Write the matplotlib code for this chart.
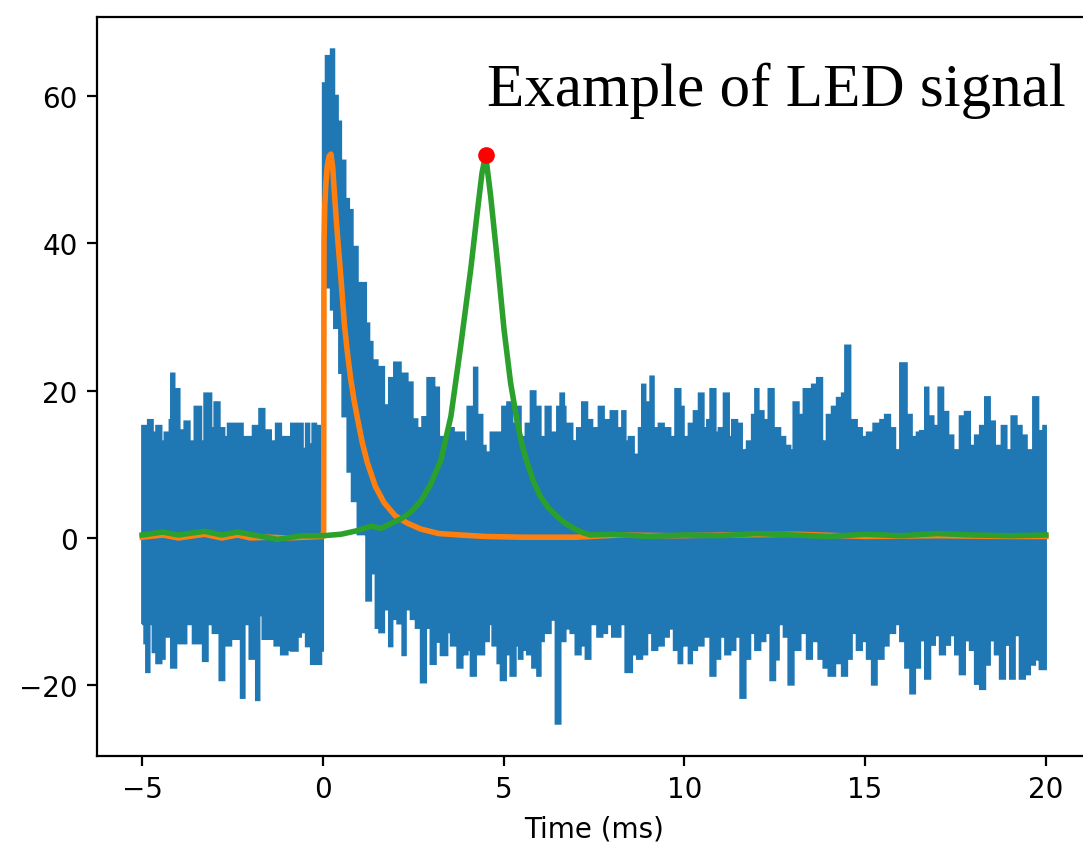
import numpy as np
import matplotlib
matplotlib.use("Agg")
import matplotlib.pyplot as plt


# ----------------------
# measured trace (envelope of the raw samples, step levels)
# ----------------------

# upper edge of the raw trace: segment start time (ms) and level
up_t = [-5.00, -4.84, -4.71, -4.61, -4.47, -4.38, -4.24, -4.20, -4.11, -3.97,
        -3.83, -3.69, -3.55, -3.37, -3.28, -3.09, -3.00, -2.86, -2.73, -2.63,
        -2.22, -1.94, -1.76, -1.62, -1.44, -1.30, -1.16, -0.88, -0.56, -0.47,
        -0.38, -0.29, -0.19, 0.00, 0.08, 0.22, 0.31, 0.41, 0.50, 0.62,
        0.72, 0.82, 0.96, 1.05, 1.10, 1.19, 1.28, 1.37, 1.51, 1.69,
        1.83, 1.97, 2.15, 2.34, 2.48, 2.61, 2.75, 2.89, 3.08, 3.21,
        3.44, 3.62, 3.90, 4.00, 4.18, 4.27, 4.41, 4.50, 4.64, 4.96,
        5.10, 5.24, 5.33, 5.47, 5.61, 5.75, 5.88, 6.02, 6.16, 6.30,
        6.48, 6.57, 6.67, 6.71, 6.90, 6.94, 6.99, 7.03, 7.17, 7.31,
        7.45, 7.63, 7.77, 7.96, 8.14, 8.28, 8.37, 8.46, 8.60, 8.74,
        8.83, 8.92, 9.06, 9.15, 9.29, 9.43, 9.61, 9.75, 9.89, 9.98,
        10.12, 10.26, 10.40, 10.53, 10.63, 10.72, 10.86, 10.95, 11.09, 11.23,
        11.32, 11.46, 11.59, 11.73, 11.87, 11.96, 12.05, 12.19, 12.33, 12.47,
        12.65, 12.79, 12.93, 13.02, 13.16, 13.30, 13.53, 13.67, 13.81, 13.94,
        14.08, 14.22, 14.36, 14.45, 14.59, 14.77, 14.91, 15.05, 15.23, 15.42,
        15.55, 15.69, 15.83, 15.97, 16.15, 16.29, 16.43, 16.52, 16.66, 16.75,
        16.89, 17.03, 17.16, 17.30, 17.44, 17.62, 17.76, 17.90, 18.04, 18.18,
        18.32, 18.45, 18.59, 18.78, 18.91, 19.05, 19.19, 19.33, 19.47, 19.65,
        19.79, 19.93]
up_v = [15.2, 16.0, 14.3, 15.2, 13.1, 14.3, 16.0, 22.3, 20.2, 14.6,
        15.8, 13.1, 17.8, 13.1, 19.6, 14.9, 18.4, 14.9, 13.7, 15.5,
        13.7, 15.2, 17.5, 14.6, 13.1, 15.5, 13.7, 15.5, 12.1, 15.5,
        12.7, 15.5, 15.2, 61.7, 65.4, 66.3, 60.0, 56.5, 51.2, 46.0,
        44.5, 39.5, 34.6, 32.8, 34.6, 29.1, 26.6, 24.1, 23.2, 18.0,
        21.7, 23.8, 22.3, 21.1, 16.1, 14.9, 16.4, 21.7, 20.4, 13.7,
        14.9, 14.3, 13.1, 17.8, 23.1, 16.7, 12.5, 11.6, 14.3, 17.8,
        18.4, 15.5, 17.8, 13.7, 15.5, 19.9, 17.8, 13.7, 17.8, 14.3,
        17.8, 19.6, 17.8, 15.5, 13.1, 9.6, 13.1, 14.9, 18.4, 16.0,
        14.9, 17.8, 16.0, 17.2, 14.9, 17.2, 13.1, 13.7, 11.3, 14.9,
        20.8, 18.4, 21.9, 14.9, 15.5, 14.9, 13.7, 20.2, 17.8, 13.7,
        15.5, 17.2, 19.6, 14.9, 16.0, 20.2, 14.3, 14.9, 19.6, 13.7,
        16.0, 15.5, 11.9, 13.1, 16.7, 20.2, 17.2, 16.0, 20.2, 14.9,
        13.7, 12.5, 11.9, 18.4, 16.7, 20.2, 20.8, 21.7, 13.1, 16.7,
        17.8, 19.0, 19.6, 26.1, 16.0, 14.9, 13.7, 14.3, 15.5, 16.0,
        16.7, 14.9, 11.9, 23.7, 16.7, 13.7, 14.3, 14.5, 20.4, 16.5,
        15.2, 20.4, 17.1, 13.9, 11.9, 16.5, 17.1, 12.5, 13.9, 15.2,
        19.1, 15.8, 12.5, 15.2, 11.9, 16.5, 15.2, 13.9, 11.9, 19.1,
        14.5, 15.2]

# lower edge of the raw trace
lo_t = [-5.00, -4.94, -4.89, -4.80, -4.71, -4.61, -4.47, -4.38, -4.20, -4.06,
        -3.78, -3.60, -3.32, -3.19, -3.05, -2.86, -2.73, -2.54, -2.27, -2.17,
        -2.03, -1.85, -1.76, -1.67, -1.34, -1.16, -0.98, -0.88, -0.70, -0.61,
        -0.47, -0.33, -0.05, 0.00, 0.22, 0.31, 0.45, 0.54, 0.68, 0.80,
        0.96, 1.20, 1.33, 1.46, 1.56, 1.69, 1.83, 1.92, 2.06, 2.20,
        2.29, 2.43, 2.57, 2.71, 2.85, 2.98, 3.12, 3.26, 3.44, 3.54,
        3.72, 3.86, 4.00, 4.09, 4.23, 4.46, 4.59, 4.69, 4.83, 4.92,
        5.06, 5.19, 5.33, 5.42, 5.52, 5.65, 5.79, 5.93, 6.02, 6.11,
        6.30, 6.44, 6.57, 6.71, 6.85, 6.99, 7.13, 7.27, 7.40, 7.59,
        7.73, 7.86, 8.00, 8.23, 8.37, 8.55, 8.69, 8.83, 8.97, 9.11,
        9.25, 9.43, 9.57, 9.71, 9.84, 9.94, 10.12, 10.21, 10.35, 10.53,
        10.72, 10.86, 10.99, 11.13, 11.27, 11.41, 11.55, 11.69, 11.82, 11.96,
        12.10, 12.24, 12.38, 12.51, 12.61, 12.75, 12.88, 13.02, 13.21, 13.39,
        13.53, 13.71, 13.85, 13.99, 14.17, 14.36, 14.50, 14.63, 14.77, 14.91,
        15.05, 15.19, 15.32, 15.51, 15.65, 15.83, 15.97, 16.11, 16.25, 16.38,
        16.52, 16.66, 16.80, 16.93, 17.07, 17.21, 17.35, 17.49, 17.62, 17.76,
        17.90, 18.04, 18.18, 18.32, 18.45, 18.59, 18.73, 18.87, 19.01, 19.14,
        19.28, 19.42, 19.56, 19.70, 19.83]
lo_v = [-11.7, -14.3, -18.2, -11.7, -15.5, -17.0, -16.4, -13.4, -17.6, -14.3,
        -11.7, -14.3, -16.7, -11.7, -12.9, -19.3, -14.6, -13.7, -21.7, -11.7,
        -16.4, -22.0, -10.5, -13.7, -14.6, -15.8, -15.2, -15.3, -13.4, -12.8,
        -14.7, -17.1, -15.3, 34.0, 31.0, 28.5, 22.4, 16.5, 9.0, 5.0,
        0.5, -8.5, -4.8, -12.2, -12.8, -9.7, -14.7, -11.0, -11.6, -15.9,
        -9.7, -11.0, -12.2, -19.6, -12.2, -17.1, -14.1, -15.9, -12.8, -14.6,
        -17.6, -15.8, -15.2, -18.7, -15.8, -14.0, -11.7, -14.6, -17.0, -19.3,
        -15.8, -18.7, -14.6, -16.4, -15.2, -15.8, -17.6, -18.7, -14.0, -12.9,
        -11.1, -25.2, -14.0, -12.3, -12.9, -15.8, -14.6, -16.4, -11.7, -13.4,
        -12.9, -11.7, -13.4, -11.7, -18.2, -15.8, -16.4, -15.8, -12.9, -15.2,
        -14.6, -13.4, -12.3, -15.2, -17.0, -14.6, -17.0, -15.2, -14.6, -13.4,
        -18.7, -16.4, -13.4, -15.8, -15.2, -13.4, -21.7, -16.4, -12.9, -15.2,
        -14.0, -12.9, -19.3, -16.5, -11.7, -13.4, -19.9, -15.2, -12.9, -16.4,
        -14.0, -16.4, -17.6, -18.7, -17.0, -18.7, -16.4, -12.9, -15.2, -14.0,
        -16.4, -19.9, -16.4, -14.6, -12.9, -11.7, -14.0, -17.6, -21.1, -17.6,
        -13.9, -19.1, -14.5, -13.2, -15.8, -14.5, -13.2, -15.8, -18.5, -13.9,
        -15.2, -19.8, -20.5, -17.2, -13.9, -15.8, -19.1, -14.5, -19.1, -13.2,
        -19.1, -18.5, -17.2, -16.5, -17.8]
t_end = 20.0

# exponential fit to the pulse
fit_t = [-5.0, -4.43, -4.0, -3.28, -2.8, -2.36, -2.0, -1.5, -1.0, -0.5,
         0.0, 0.02, 0.025, 0.03, 0.05, 0.08, 0.12, 0.17, 0.22, 0.27,
         0.31, 0.36, 0.41, 0.50, 0.59, 0.68, 0.77, 0.86, 0.96, 1.09,
         1.23, 1.45, 1.69, 2.0, 2.34, 2.71, 3.2, 3.8, 4.5, 5.5,
         7.0, 8.2, 9.7, 11.2, 13.1, 15.0, 17.0, 19.0, 20.0]
fit_v = [0.1, 0.4, 0.0, 0.5, 0.0, 0.4, 0.0, 0.1, 0.0, 0.1,
         0.2, 1.0, 20.0, 40.0, 45.0, 48.0, 50.5, 51.8, 52.1, 50.3,
         47.3, 43.8, 40.5, 35.1, 29.2, 25.0, 21.5, 18.7, 16.1, 12.9,
         10.2, 7.0, 4.8, 3.0, 2.0, 1.2, 0.6, 0.4, 0.2, 0.1,
         0.1, 0.4, 0.3, 0.4, 0.5, 0.2, 0.3, 0.2, 0.2]

# shifted template, peak marked in red
tmpl_t = [-5.0, -4.43, -4.0, -3.28, -2.8, -2.36, -1.8, -1.26, -0.6, 0.0,
          0.5, 0.96, 1.33, 1.6, 1.88, 2.16, 2.43, 2.71, 2.98, 3.26,
          3.54, 3.81, 4.09, 4.27, 4.40, 4.50, 4.64, 4.83, 5.01, 5.19,
          5.38, 5.50, 5.65, 5.83, 6.02, 6.25, 6.48, 6.70, 6.94, 7.20,
          7.40, 8.0, 9.0, 10.0, 11.0, 12.0, 13.0, 14.0, 15.0, 16.0,
          17.0, 18.0, 19.0, 20.0]
tmpl_v = [0.4, 0.8, 0.4, 0.9, 0.4, 0.8, 0.3, -0.2, 0.3, 0.3,
          0.5, 1.0, 1.6, 1.3, 1.95, 2.6, 3.5, 5.0, 7.3, 10.5,
          16.5, 26.0, 36.5, 44.2, 49.5, 52.0, 46.4, 37.4, 28.3, 21.1,
          15.6, 12.8, 10.2, 7.6, 5.6, 4.0, 2.9, 2.0, 1.3, 0.7,
          0.4, 0.5, 0.2, 0.4, 0.3, 0.6, 0.4, 0.2, 0.5, 0.3,
          0.6, 0.4, 0.3, 0.4]
peak_t = 4.5
peak_v = 52.0


# put both step edges on one common set of bin edges
edges = np.union1d(np.append(up_t, t_end), np.append(lo_t, t_end))
starts = edges[:-1]
up_on = np.asarray(up_v)[np.searchsorted(up_t, starts, side='right') - 1]
lo_on = np.asarray(lo_v)[np.searchsorted(lo_t, starts, side='right') - 1]


fig = plt.figure(figsize=(5.415, 4.225), dpi=200)
ax = fig.add_axes([0.0896, 0.1041, 0.9178, 0.8746])

ax.stairs(up_on, edges, baseline=lo_on, fill=True, facecolor='C0',
          edgecolor='C0', lw=0.8)
ax.plot(fit_t, fit_v, color='C1', lw=2.0)
ax.plot(tmpl_t, tmpl_v, color='C2', lw=2.0)
ax.plot(peak_t, peak_v, 'o', color='r', ms=5)

ax.set_xlim(-6.25, 21.25)
ax.set_ylim(-29.6, 70.7)
ax.set_xticks([-5, 0, 5, 10, 15, 20])
ax.set_yticks([-20, 0, 20, 40, 60])
ax.set_xlabel('Time (ms)')

fig.text(0.984, 0.8746, 'Example of LED signal', family='Liberation Serif',
         fontsize=22, ha='right', va='baseline')

fig.savefig('out.png', dpi=200)
